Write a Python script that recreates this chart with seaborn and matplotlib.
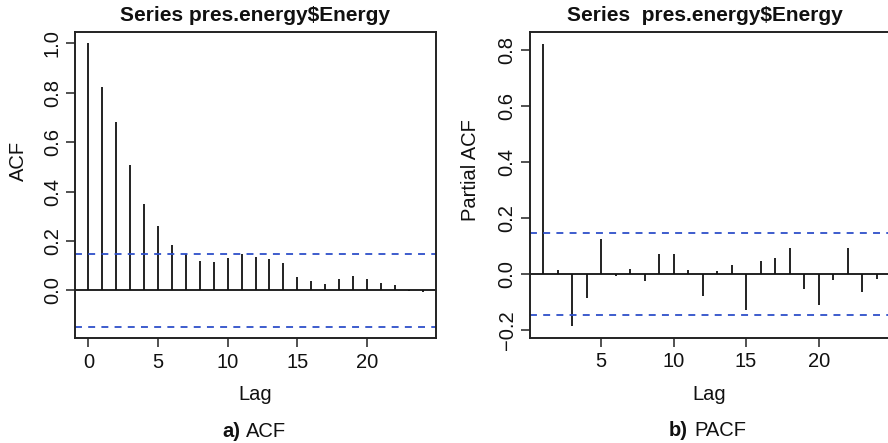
import numpy as np
import matplotlib
matplotlib.use("Agg")
import matplotlib.pyplot as plt
import seaborn as sns

# Autocorrelation estimates for pres.energy$Energy
acf_lags = list(range(0, 25))
acf_vals = [1.000, 0.825, 0.683, 0.508, 0.349, 0.261, 0.185, 0.148, 0.118, 0.115,
            0.131, 0.146, 0.137, 0.126, 0.111, 0.055, 0.037, 0.024, 0.045, 0.058,
            0.045, 0.028, 0.021, -0.003, -0.005]

# Partial autocorrelation estimates
pacf_lags = list(range(1, 25))
pacf_vals = [0.824, 0.015, -0.187, -0.084, 0.124, -0.007, 0.019, -0.026, 0.073, 0.071,
             0.013, -0.079, 0.012, 0.034, -0.129, 0.047, 0.056, 0.095, -0.052, -0.109,
             -0.021, 0.094, -0.065, -0.016]

# Approximate 95% significance bound
ci_bound = 0.147

acf_yticks = [0.0, 0.2, 0.4, 0.6, 0.8, 1.0]
acf_xticks = [0, 5, 10, 15, 20]
pacf_yticks = [-0.2, 0.0, 0.2, 0.4, 0.6, 0.8]
pacf_xticks = [5, 10, 15, 20]

sns.set_theme(style="ticks")
plt.rcParams["font.family"] = ["Liberation Sans", "DejaVu Sans"]
plt.rcParams["lines.scale_dashes"] = False

W, H = 888, 443
fig = plt.figure(figsize=(W / 100, H / 100), dpi=100)
fig.patch.set_facecolor("white")

FS = 14.5
CI_COLOR = "#2e4fc9"


def px_axes(x0, y0, x1, y1):
    return fig.add_axes([x0 / W, 1 - y1 / H, (x1 - x0) / W, (y1 - y0) / H])


def style_axes(ax, lags, vals, xticks, yticks):
    lo = min(min(vals), -ci_bound)
    hi = max(max(vals), ci_bound)
    pad = 0.04 * (hi - lo)
    xpad = 0.04 * (max(lags) - min(lags))
    ax.set_xlim(min(lags) - xpad, max(lags) + xpad)
    ax.set_ylim(lo - pad, hi + pad)
    ax.vlines(lags, 0, vals, color="#111111", linewidth=1.3)
    ax.axhline(0, color="#111111", linewidth=1.3)
    for b in (ci_bound, -ci_bound):
        ax.axhline(b, color=CI_COLOR, linewidth=1.3, dashes=(5, 4.5))
    ax.set_xticks(xticks)
    ax.set_yticks(yticks)
    ax.set_xticklabels([str(t) for t in xticks], fontsize=FS)
    ax.set_yticklabels([f"{t:.1f}".replace("-", "\u2212") for t in yticks],
                       fontsize=FS, rotation=90, va="center")
    ax.tick_params(axis="both", length=6.5, width=1.1, color="#222222",
                   labelcolor="#111111", direction="out")
    ax.tick_params(axis="x", pad=4)
    ax.tick_params(axis="y", pad=3)
    for s in ax.spines.values():
        s.set_color("#222222")
        s.set_linewidth(1.4)
    ax.set_facecolor("white")


# Left panel: ACF
ax1 = px_axes(75, 32, 436, 338)
style_axes(ax1, acf_lags, acf_vals, acf_xticks, acf_yticks)

# Right panel: PACF
ax2 = px_axes(529.7, 32.3, 890, 337.7)
style_axes(ax2, pacf_lags, pacf_vals, pacf_xticks, pacf_yticks)

# Titles, axis labels and captions
def ftext(x, y, s, **kw):
    fig.text(x / W, 1 - y / H, s, **kw)

ftext(255.5, 21, r"Series pres.energy\$Energy", ha="center", va="baseline",
      fontsize=15, fontweight="bold", color="#111111")
ftext(705, 21, r"Series  pres.energy\$Energy", ha="center", va="baseline",
      fontsize=15, fontweight="bold", color="#111111")

ftext(18, 161, "ACF", ha="center", va="center", rotation=90, fontsize=FS, color="#111111")
ftext(470, 170, "Partial ACF", ha="center", va="center", rotation=90, fontsize=FS, color="#111111")

ftext(255.5, 400, "Lag", ha="center", va="baseline", fontsize=FS, color="#111111")
ftext(709, 400, "Lag", ha="center", va="baseline", fontsize=FS, color="#111111")

ftext(222, 437, "a)", ha="left", va="baseline", fontsize=FS, fontweight="bold", color="#111111")
ftext(246, 437, "ACF", ha="left", va="baseline", fontsize=FS, color="#111111")
ftext(669, 436, "b)", ha="left", va="baseline", fontsize=FS, fontweight="bold", color="#111111")
ftext(694, 436, "PACF", ha="left", va="baseline", fontsize=FS, color="#111111")

fig.savefig("out.png", dpi=100, facecolor="white")
